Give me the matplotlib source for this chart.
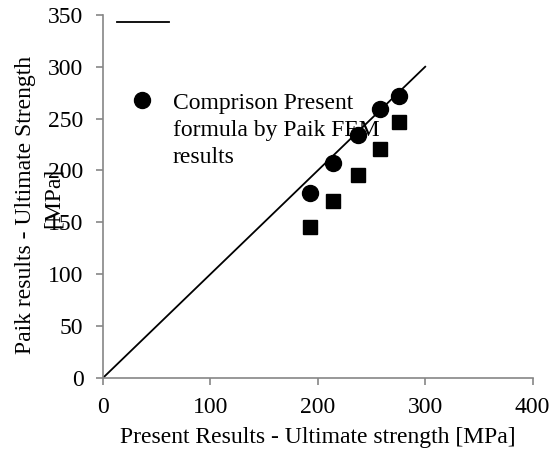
import matplotlib.pyplot as plt
from matplotlib.lines import Line2D

plt.rcParams['font.family'] = ['Liberation Serif', 'DejaVu Serif']

# values
present = [193, 214, 237, 258, 276]
paik_formula = [178, 207, 234, 259, 272]
paik_fem = [146, 171, 196, 221, 247]
diag = [0, 300]
xticks = [0, 100, 200, 300, 400]
yticks = [0, 50, 100, 150, 200, 250, 300, 350]

fig = plt.figure(figsize=(5.56, 4.5), dpi=100)
ax = fig.add_axes([0.185, 0.16, 0.773, 0.807])

ax.plot(diag, diag, color='black', lw=1.3, zorder=2)
ax.plot(present, paik_formula, 'o', color='black', ms=11.5, zorder=3)
ax.plot(present, paik_fem, 's', color='black', ms=10.5, zorder=3)

ax.set_xlim(0, 400)
ax.set_ylim(0, 350)
ax.set_xticks(xticks)
ax.set_yticks(yticks)

for side in ['top', 'right']:
    ax.spines[side].set_visible(False)
for side in ['left', 'bottom']:
    ax.spines[side].set_color('#868686')
    ax.spines[side].set_linewidth(1.2)
ax.tick_params(direction='out', length=5, width=1.2, color='#868686',
               labelsize=17, pad=9)

ax.set_xlabel('Present Results - Ultimate strength [MPa]', fontsize=17, labelpad=6)
# y label overlaps the tick labels in the original, kept that way
ax.text(-0.181, 0.477, 'Paik results - Ultimate Strength',
        transform=ax.transAxes, rotation=90, ha='center', va='center',
        fontsize=17)
ax.text(-0.116, 0.496, '[MPa]',
        transform=ax.transAxes, rotation=90, ha='center', va='center',
        fontsize=17)

# hand-drawn legend (the reference only shows two entries)
ax.add_line(Line2D([0.032, 0.153], [0.98, 0.98], transform=ax.transAxes,
                   color='black', lw=1.3, clip_on=False))
ax.add_line(Line2D([0.092], [0.765], transform=ax.transAxes, marker='o',
                   color='black', ms=11.5, clip_on=False))
ax.text(0.163, 0.786, 'Comprison Present\nformula by Paik FEM\nresults',
        transform=ax.transAxes, ha='left', va='top', fontsize=17,
        linespacing=1.38)

fig.savefig('out.png', dpi=100)
